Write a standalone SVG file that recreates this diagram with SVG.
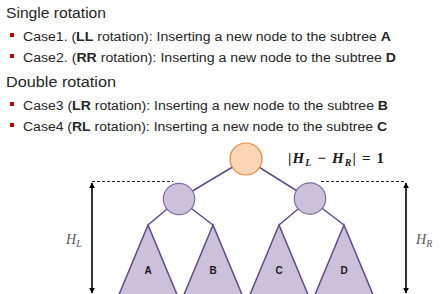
<svg xmlns="http://www.w3.org/2000/svg" width="442" height="294" viewBox="0 0 442 294">
<defs>
<style>
.h{font-family:"Liberation Sans",Arial,sans-serif;font-size:15.5px;fill:#262626}
.t{font-family:"Liberation Sans",Arial,sans-serif;font-size:12.5px;fill:#262626}
.b{font-weight:bold}
.bul{fill:#c00000}
.edge{stroke:#5f4b8b;stroke-width:1.5;fill:none}
.node{fill:#ccc1da;stroke:#7f6aa6;stroke-width:1.2}
.root{fill:#fcd5b5;stroke:#e8883a;stroke-width:1.2}
.tri{fill:#ccc1da;stroke:#5f4b8b;stroke-width:1.5}
.lab{font-family:"Liberation Sans",Arial,sans-serif;font-size:10px;font-weight:bold;fill:#1a1a1a;text-anchor:middle}
.dash{stroke:#262626;stroke-width:1;stroke-dasharray:3,2;fill:none}
.arr{stroke:#000;stroke-width:1.6;fill:none;marker-start:url(#ah);marker-end:url(#ah)}
.m{font-family:"Liberation Serif","Times New Roman",serif;font-size:14px;font-style:italic;fill:#595959}
.f{font-family:"Liberation Serif","Times New Roman",serif;font-size:15px;font-weight:bold;fill:#1a1a1a}
</style>
<marker id="ah" viewBox="0 0 10 10" refX="9" refY="5" markerWidth="6" markerHeight="6" orient="auto-start-reverse" markerUnits="userSpaceOnUse">
<path d="M0,0 L10,5 L0,10 z" fill="#000"/>
</marker>
</defs>
<g id="text">
<text class="h" x="6" y="18.3" textLength="100" lengthAdjust="spacingAndGlyphs">Single rotation</text>
<rect class="bul" x="10" y="33" width="4" height="4"/>
<text class="t" x="23" y="40.5" textLength="368" lengthAdjust="spacingAndGlyphs">Case1. (<tspan class="b">LL</tspan> rotation): Inserting a new node to the subtree <tspan class="b">A</tspan></text>
<rect class="bul" x="10" y="54" width="4" height="4"/>
<text class="t" x="23" y="61.5" textLength="373" lengthAdjust="spacingAndGlyphs">Case2. (<tspan class="b">RR</tspan> rotation): Inserting a new node to the subtree <tspan class="b">D</tspan></text>
<text class="h" x="6" y="86.7" textLength="110" lengthAdjust="spacingAndGlyphs">Double rotation</text>
<rect class="bul" x="10" y="102" width="4" height="4"/>
<text class="t" x="23" y="109.5" textLength="365" lengthAdjust="spacingAndGlyphs">Case3 (<tspan class="b">LR</tspan> rotation): Inserting a new node to the subtree <tspan class="b">B</tspan></text>
<rect class="bul" x="10" y="123" width="4" height="4"/>
<text class="t" x="23" y="130.5" textLength="364" lengthAdjust="spacingAndGlyphs">Case4 (<tspan class="b">RL</tspan> rotation): Inserting a new node to the subtree <tspan class="b">C</tspan></text>
</g>
<g id="connectors">
<line class="edge" x1="246" y1="159" x2="179" y2="199"/>
<line class="edge" x1="246" y1="159" x2="310" y2="199"/>
<line class="edge" x1="179" y1="199" x2="148" y2="225"/>
<line class="edge" x1="179" y1="199" x2="213" y2="225"/>
<line class="edge" x1="310" y1="199" x2="279" y2="225"/>
<line class="edge" x1="310" y1="199" x2="344" y2="225"/>
<line class="dash" x1="92" y1="181.5" x2="173" y2="181.5"/>
<line class="dash" x1="321" y1="181.5" x2="406" y2="181.5"/>
<line class="arr" x1="92" y1="183" x2="92" y2="293"/>
<line class="arr" x1="406" y1="183" x2="406" y2="293"/>
</g>
<g id="root"><circle class="root" cx="246" cy="159" r="16"/></g>
<g id="left"><circle class="node" cx="179" cy="199" r="15.7"/></g>
<g id="right"><circle class="node" cx="310" cy="198.5" r="15.7"/></g>
<g id="subA"><polygon class="tri" points="148,225 118,297 178,297"/><text class="lab" x="148" y="274">A</text></g>
<g id="subB"><polygon class="tri" points="213,225 183,297 243,297"/><text class="lab" x="213" y="274">B</text></g>
<g id="subC"><polygon class="tri" points="279,225 249,297 309,297"/><text class="lab" x="279" y="274">C</text></g>
<g id="subD"><polygon class="tri" points="344,225 314,297 374,297"/><text class="lab" x="344" y="274">D</text></g>
<g id="labels">
<text class="m" x="66" y="243.5">H<tspan font-size="10" dy="3">L</tspan></text>
<text class="m" x="416" y="243.5">H<tspan font-size="10" dy="3">R</tspan></text>
<text class="f" x="288" y="163.3" textLength="96" lengthAdjust="spacing">|<tspan font-style="italic">H</tspan><tspan font-style="italic" font-size="10" dy="3">L</tspan><tspan dy="-3"> − </tspan><tspan font-style="italic">H</tspan><tspan font-style="italic" font-size="10" dy="3">R</tspan><tspan dy="-3">| = 1</tspan></text>
</g>
</svg>
